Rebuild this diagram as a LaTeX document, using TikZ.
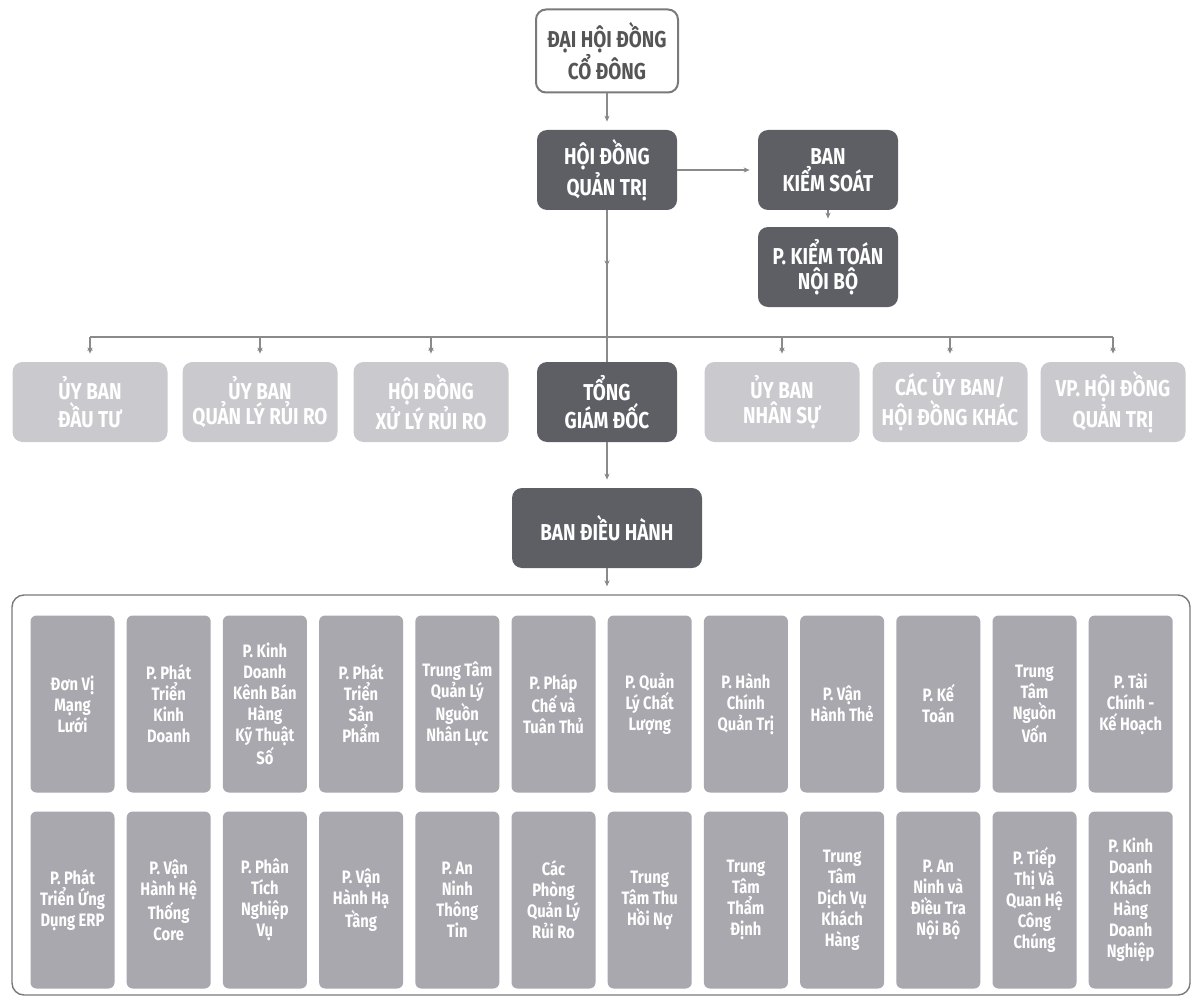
\documentclass[tikz,border=0pt]{standalone}
\usepackage{fontspec}
\setmainfont{Fira Sans}[FakeStretch=0.82]
\usetikzlibrary{arrows.meta,positioning,decorations.markings}

\definecolor{boxdark}{HTML}{5E5E65}
\definecolor{boxlight}{HTML}{C9C9CE}
\definecolor{boxmid}{HTML}{A8A8AE}
\definecolor{linkgray}{HTML}{8A8A8A}
\definecolor{toptext}{HTML}{555555}
\definecolor{panelgray}{HTML}{7A7A7A}

\tikzset{
  orgbox/.style={rounded corners=5pt, align=center, text=white, inner sep=0pt,
    font=\bfseries\fontsize{11.5}{12.5}\selectfont},
  topbox/.style={orgbox, draw=panelgray, line width=1pt, fill=white, text=toptext,
    minimum width=71pt, minimum height=41.5pt},
  darkbox/.style={orgbox, fill=boxdark, minimum width=70pt, minimum height=40pt},
  lightbox/.style={orgbox, fill=boxlight, minimum width=77.5pt, minimum height=40pt},
  unitbox/.style={rounded corners=3pt, fill=boxmid, text=white, align=center, inner sep=0pt,
    font=\bfseries\fontsize{9}{10.5}\selectfont, minimum width=42pt, minimum height=88.5pt},
  panel/.style={draw=panelgray, line width=0.7pt, rounded corners=6pt,
    minimum width=589pt, minimum height=200pt},
  link/.style={draw=linkgray, line width=0.6pt},
  tip/.style={-{Stealth[length=3pt,width=2.6pt]}, shorten >=4pt},
  midtip/.style={postaction={decorate}, decoration={markings,
    mark=at position 0.37 with {\arrow{Stealth[length=3pt,width=2.6pt]}}}}
}

\begin{document}
\begin{tikzpicture}[x=0.5pt, y=-0.5pt]
  \useasboundingbox (0,0) rectangle (1192,1000);

  % board level
  \node[topbox] (dhdcd) at (607, 51) {ĐẠI HỘI ĐỒNG\\CỔ ĐÔNG};
  \node[darkbox] (hdqt) at (607, 170) {HỘI ĐỒNG\\QUẢN TRỊ};
  \node[darkbox] (bks)  at (828, 170) {BAN\\KIỂM SOÁT};
  \node[darkbox] (ktnb) at (828, 267) {P. KIỂM TOÁN\\NỘI BỘ};

  % committees
  \node[lightbox] (ubdt)   at (90, 402)  {ỦY BAN\\ĐẦU TƯ};
  \node[lightbox] (ubqlrr) at (260, 402) {ỦY BAN\\QUẢN LÝ RỦI RO};
  \node[lightbox] (hdxlrr) at (431, 402) {HỘI ĐỒNG\\XỬ LÝ RỦI RO};
  \node[darkbox]  (tgd)    at (607, 402) {TỔNG\\GIÁM ĐỐC};
  \node[lightbox] (ubns)   at (782, 402) {ỦY BAN\\NHÂN SỰ};
  \node[lightbox] (cacub)  at (950, 402) {CÁC ỦY BAN/\\HỘI ĐỒNG KHÁC};
  \node[lightbox, minimum width=72.5pt] (vphdqt) at (1113, 402) {VP. HỘI ĐỒNG\\QUẢN TRỊ};
  \coordinate (bus) at (607, 337);

  \node[darkbox, minimum width=95pt] (bdh) at (607, 528) {BAN ĐIỀU HÀNH};

  % units
  \node[panel] (khoi) at (601, 795) {};
  \node[unitbox] (u1)  at (72.5, 704)  {Đơn Vị\\Mạng\\Lưới};
  \node[unitbox] (u2)  at (168.7, 704) {P. Phát\\Triển\\Kinh\\Doanh};
  \node[unitbox] (u3)  at (264.9, 704) {P. Kinh\\Doanh\\Kênh Bán\\Hàng\\Kỹ Thuật\\Số};
  \node[unitbox] (u4)  at (361.1, 704) {P. Phát\\Triển\\Sản\\Phẩm};
  \node[unitbox] (u5)  at (457.3, 704) {Trung Tâm\\Quản Lý\\Nguồn\\Nhân Lực};
  \node[unitbox] (u6)  at (553.5, 704) {P. Pháp\\Chế và\\Tuân Thủ};
  \node[unitbox] (u7)  at (649.7, 704) {P. Quản\\Lý Chất\\Lượng};
  \node[unitbox] (u8)  at (745.9, 704) {P. Hành\\Chính\\Quản Trị};
  \node[unitbox] (u9)  at (842.1, 704) {P. Vận\\Hành Thẻ};
  \node[unitbox] (u10) at (938.3, 704) {P. Kế\\Toán};
  \node[unitbox] (u11) at (1034.5, 704) {Trung\\Tâm\\Nguồn\\Vốn};
  \node[unitbox] (u12) at (1130.7, 704) {P. Tài\\Chính -\\Kế Hoạch};
  \node[unitbox] (v1)  at (72.5, 900)  {P. Phát\\Triển Ứng\\Dụng ERP};
  \node[unitbox] (v2)  at (168.7, 900) {P. Vận\\Hành Hệ\\Thống\\Core};
  \node[unitbox] (v3)  at (264.9, 900) {P. Phân\\Tích\\Nghiệp\\Vụ};
  \node[unitbox] (v4)  at (361.1, 900) {P. Vận\\Hành Hạ\\Tầng};
  \node[unitbox] (v5)  at (457.3, 900) {P. An\\Ninh\\Thông\\Tin};
  \node[unitbox] (v6)  at (553.5, 900) {Các\\Phòng\\Quản Lý\\Rủi Ro};
  \node[unitbox] (v7)  at (649.7, 900) {Trung\\Tâm Thu\\Hồi Nợ};
  \node[unitbox] (v8)  at (745.9, 900) {Trung\\Tâm\\Thẩm\\Định};
  \node[unitbox] (v9)  at (842.1, 900) {Trung\\Tâm\\Dịch Vụ\\Khách\\Hàng};
  \node[unitbox] (v10) at (938.3, 900) {P. An\\Ninh và\\Điều Tra\\Nội Bộ};
  \node[unitbox] (v11) at (1034.5, 900) {P. Tiếp\\Thị Và\\Quan Hệ\\Công\\Chúng};
  \node[unitbox] (v12) at (1130.7, 900) {P. Kinh\\Doanh\\Khách\\Hàng\\Doanh\\Nghiệp};

  % connectors
  \path[link, tip] (dhdcd) edge (hdqt);
  \path[link, tip] (hdqt) edge (bks);
  \path[link, tip] (bks) edge (ktnb);
  \draw[link, midtip] (hdqt) -- (tgd);
  \draw[link] (ubdt |- bus) -- (vphdqt |- bus);
  \path[link, tip] (ubdt |- bus) edge (ubdt);
  \path[link, tip] (ubqlrr |- bus) edge (ubqlrr);
  \path[link, tip] (hdxlrr |- bus) edge (hdxlrr);
  \path[link, tip] (ubns |- bus) edge (ubns);
  \path[link, tip] (cacub |- bus) edge (cacub);
  \path[link, tip] (vphdqt |- bus) edge (vphdqt);
  \path[link, tip] (tgd) edge (bdh);
  \path[link, tip] (bdh) edge (bdh |- khoi.north);
\end{tikzpicture}
\end{document}
